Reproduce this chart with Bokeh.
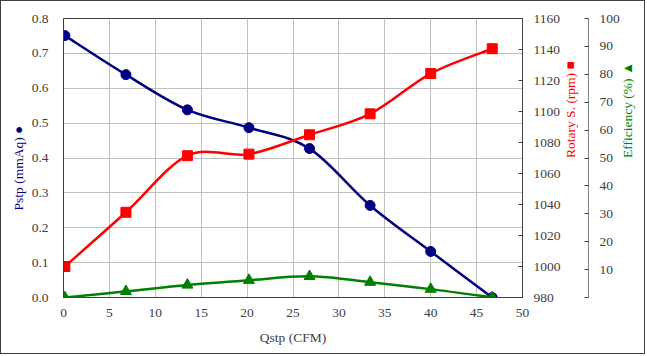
import math
from bokeh.plotting import figure
from bokeh.models import Range1d, LinearAxis, FixedTicker, PrintfTickFormatter
from bokeh.embed import file_html
from bokeh.resources import INLINE

# ---- data ----
qstp = [0.15, 6.8, 13.5, 20.2, 26.8, 33.4, 40.0, 46.7]          # CFM
pstp = [0.751, 0.639, 0.538, 0.487, 0.427, 0.264, 0.132, 0.0]    # mmAq
rpm = [1000, 1035, 1071.5, 1072.5, 1085, 1098.5, 1124.5, 1140.5] # rpm
eff = [0.0, 2.2, 4.5, 6.2, 7.6, 5.5, 3.0, 0.0]                   # %

x_ticks = [0, 5, 10, 15, 20, 25, 30, 35, 40, 45, 50]
p_ticks = [0.0, 0.1, 0.2, 0.3, 0.4, 0.5, 0.6, 0.7, 0.8]
rpm_ticks = [980, 1000, 1020, 1040, 1060, 1080, 1100, 1120, 1140, 1160]
eff_ticks = [0, 10, 20, 30, 40, 50, 60, 70, 80, 90, 100]

FONT = "Liberation Serif"
FS = "13.5px"
TXT = "#404040"
NAVY = "#000080"
RED = "#FF0000"
GREEN = "#008000"
NB = "\u00a0"


def smooth(xs, ys):
    """Excel-like smoothed line: cubic bezier segments with cardinal control points."""
    n = len(xs)
    out = dict(x0=[], y0=[], x1=[], y1=[], cx0=[], cy0=[], cx1=[], cy1=[])
    for i in range(n - 1):
        xp, yp = (xs[i - 1], ys[i - 1]) if i > 0 else (xs[i], ys[i])
        xn, yn = (xs[i + 2], ys[i + 2]) if i + 2 < n else (xs[i + 1], ys[i + 1])
        out["x0"].append(xs[i]); out["y0"].append(ys[i])
        out["x1"].append(xs[i + 1]); out["y1"].append(ys[i + 1])
        out["cx0"].append(xs[i] + (xs[i + 1] - xp) / 6.0)
        out["cy0"].append(ys[i] + (ys[i + 1] - yp) / 6.0)
        out["cx1"].append(xs[i + 1] - (xn - xs[i]) / 6.0)
        out["cy1"].append(ys[i + 1] - (yn - ys[i]) / 6.0)
    return out


p = figure(width=645, height=354, x_range=Range1d(0, 50), y_range=Range1d(0, 0.8),
           output_backend="svg", toolbar_location=None,
           min_border_left=62, min_border_right=124, min_border_top=17, min_border_bottom=58)
p.extra_y_ranges = {"rpm": Range1d(980, 1160), "eff": Range1d(0, 100)}
p.styles = {"border": "1px solid #404040"}

p.background_fill_color = "white"
p.border_fill_color = "white"
p.outline_line_color = "#404040"
p.outline_line_width = 1

# grid
p.xgrid.ticker = FixedTicker(ticks=x_ticks)
p.ygrid.ticker = FixedTicker(ticks=p_ticks)
p.xgrid.grid_line_color = "#c0c0c0"
p.ygrid.grid_line_color = "#c0c0c0"

# bottom axis
xa = p.xaxis[0]
xa.ticker = FixedTicker(ticks=x_ticks)
xa.axis_label = "Qstp (CFM)"
xa.axis_label_text_font = FONT
xa.axis_label_text_font_size = FS
xa.axis_label_text_font_style = "normal"
xa.axis_label_text_color = TXT
xa.axis_label_standoff = 10
xa.major_label_standoff = 11
xa.major_label_text_font = FONT
xa.major_label_text_font_size = FS
xa.major_label_text_color = TXT
xa.major_tick_in = 0
xa.major_tick_out = 0
xa.minor_tick_line_color = None
xa.axis_line_color = "#404040"

# left axis
ya = p.yaxis[0]
ya.ticker = FixedTicker(ticks=p_ticks)
ya.formatter = PrintfTickFormatter(format="%.1f")
ya.axis_label = "Pstp (mmAq) \u25CF" + NB * 6
ya.axis_label_text_font = FONT
ya.axis_label_text_font_size = FS
ya.axis_label_text_font_style = "normal"
ya.axis_label_text_color = NAVY
ya.axis_label_standoff = 3
ya.major_label_standoff = 15
ya.major_label_text_font = FONT
ya.major_label_text_font_size = FS
ya.major_label_text_color = TXT
ya.major_tick_in = 0
ya.major_tick_out = 0
ya.minor_tick_line_color = None
ya.axis_line_color = "#404040"

# rpm axis (right border of plot)
ra = LinearAxis(y_range_name="rpm", ticker=FixedTicker(ticks=rpm_ticks),
                axis_label="Rotary S. (rpm) \u25A0" + NB * 4, axis_label_text_color=RED,
                axis_label_text_font=FONT, axis_label_text_font_size=FS,
                axis_label_text_font_style="normal",
                axis_label_standoff=7,
                major_label_standoff=11, major_label_text_font=FONT,
                major_label_text_font_size=FS, major_label_text_color=TXT,
                major_tick_in=4, major_tick_out=0, major_tick_line_color="#404040",
                minor_tick_line_color=None, axis_line_color="#404040")
p.add_layout(ra, "right")

# efficiency axis
ea = LinearAxis(y_range_name="eff", ticker=FixedTicker(ticks=eff_ticks),
                major_label_overrides={0: ""},
                axis_label="Efficiency (%) \u25B2" + NB * 2, axis_label_text_color=GREEN,
                axis_label_text_font=FONT, axis_label_text_font_size=FS,
                axis_label_text_font_style="normal",
                axis_label_standoff=5,
                major_label_standoff=11, major_label_text_font=FONT,
                major_label_text_font_size=FS, major_label_text_color=TXT,
                major_tick_in=4, major_tick_out=0, major_tick_line_color="#404040",
                minor_tick_line_color=None, axis_line_color="#808080")
p.add_layout(ea, "right")

# right-hand titles read bottom-to-top, like the reference
for ax in (ra, ea):
    try:
        ax.axis_label_orientation = math.pi / 2
    except Exception:
        pass

# series
sb = smooth(qstp, pstp)
p.bezier(line_color=NAVY, line_width=2.5, **sb)
p.scatter(qstp, pstp, marker="circle", size=10, fill_color=NAVY, line_color=NAVY)

sr = smooth(qstp, rpm)
p.bezier(line_color=RED, line_width=2.5, y_range_name="rpm", **sr)
p.scatter(qstp, rpm, marker="square", size=10, fill_color=RED, line_color=RED,
          y_range_name="rpm")

sg = smooth(qstp, eff)
p.bezier(line_color=GREEN, line_width=2.5, y_range_name="eff", **sg)
p.scatter(qstp, eff, marker="triangle", size=11, fill_color=GREEN, line_color=GREEN,
          y_range_name="eff")

open("out.html", "w").write(file_html(p, INLINE))
